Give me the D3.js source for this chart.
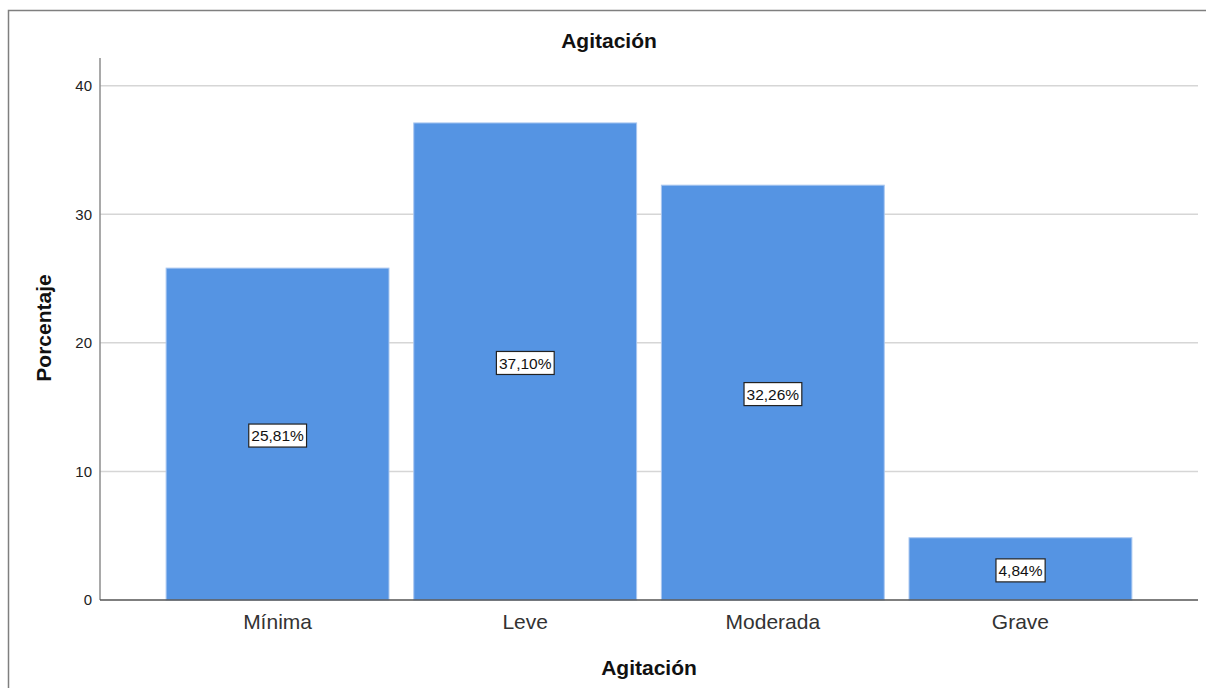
<!DOCTYPE html>
<html>
<head>
<meta charset="utf-8">
<script src="https://cdn.jsdelivr.net/npm/d3@7"></script>
<style>
  html, body { margin: 0; padding: 0; background: #fff; }
  svg { display: block; font-family: "Liberation Sans", Arial, sans-serif; }
</style>
</head>
<body>
<svg id="chart" width="1206" height="688"></svg>
<script>
const categories = ["Mínima", "Leve", "Moderada", "Grave"];
const values = [25.81, 37.10, 32.26, 4.84];
const valueLabels = ["25,81%", "37,10%", "32,26%", "4,84%"];
const yTicks = [0, 10, 20, 30, 40];
const chartTitle = "Agitación";
const xTitle = "Agitación";
const yTitle = "Porcentaje";

const svg = d3.select("#chart");
const W = 1206, H = 688;
const plot = { left: 100, right: 1198, top: 58, bottom: 600 };

// outer frame
svg.append("rect")
  .attr("x", 8.5).attr("y", 10.5)
  .attr("width", W + 10).attr("height", H + 10)
  .attr("fill", "none").attr("stroke", "#7f7f7f").attr("stroke-width", 1.5);

const x = d3.scaleBand()
  .domain(categories)
  .range([plot.left, plot.right])
  .paddingInner(0.1)
  .paddingOuter(0.267);

const y = d3.scaleLinear()
  .domain([0, 42.15])
  .range([plot.bottom, plot.top]);

// gridlines
svg.append("g")
  .selectAll("line")
  .data(yTicks.filter(d => d > 0))
  .join("line")
  .attr("x1", plot.left).attr("x2", plot.right)
  .attr("y1", d => y(d)).attr("y2", d => y(d))
  .attr("stroke", "#d6d6d6").attr("stroke-width", 1.5);

// bars
svg.append("g")
  .selectAll("rect")
  .data(values)
  .join("rect")
  .attr("x", (d, i) => x(categories[i]))
  .attr("width", x.bandwidth())
  .attr("y", d => y(d))
  .attr("height", d => y(0) - y(d))
  .attr("fill", "#5594e3")
  .attr("stroke", "#a9c7f0")
  .attr("stroke-width", 1);

// y axis
const yAxis = d3.axisLeft(y).tickValues(yTicks).tickSize(0).tickPadding(8);
const yg = svg.append("g").attr("transform", `translate(${plot.left},0)`).call(yAxis);
yg.select(".domain").attr("stroke", "#8c8c8c").attr("stroke-width", 1.5)
  .attr("d", `M0,${plot.top}V${plot.bottom}`);
yg.selectAll("text").attr("font-size", 15).attr("fill", "#222")
  .attr("font-family", "'Liberation Sans', Arial, sans-serif");

// x axis
const xAxis = d3.axisBottom(x).tickSize(0).tickPadding(14);
const xg = svg.append("g").attr("transform", `translate(0,${plot.bottom})`).call(xAxis);
xg.select(".domain").attr("stroke", "#555").attr("stroke-width", 1.5)
  .attr("d", `M${plot.left},0H${plot.right}`);
xg.selectAll("text").attr("font-size", 21).attr("fill", "#333")
  .attr("font-family", "'Liberation Sans', Arial, sans-serif");

// value labels
const lg = svg.append("g");
values.forEach((v, i) => {
  const cx = x(categories[i]) + x.bandwidth() / 2;
  const cy = y(v / 2) + 1.5;
  const g = lg.append("g").attr("transform", `translate(${cx},${cy})`);
  const t = g.append("text")
    .attr("text-anchor", "middle").attr("dy", "0.36em")
    .attr("font-size", 15.5).attr("fill", "#111")
    .text(valueLabels[i]);
  const bb = t.node().getBBox();
  g.insert("rect", "text")
    .attr("x", bb.x - 2.5).attr("y", -11.5)
    .attr("width", bb.width + 5).attr("height", 23)
    .attr("fill", "#fff").attr("stroke", "#222").attr("stroke-width", 1.2);
});

// titles
svg.append("text")
  .attr("x", 609).attr("y", 48)
  .attr("text-anchor", "middle").attr("font-weight", "bold").attr("font-size", 21)
  .attr("fill", "#111").text(chartTitle);

svg.append("text")
  .attr("x", 649).attr("y", 675)
  .attr("text-anchor", "middle").attr("font-weight", "bold").attr("font-size", 21)
  .attr("fill", "#111").text(xTitle);

svg.append("text")
  .attr("transform", "translate(51,328) rotate(-90)")
  .attr("text-anchor", "middle").attr("font-weight", "bold").attr("font-size", 21)
  .attr("fill", "#111").text(yTitle);
</script>
</body>
</html>
